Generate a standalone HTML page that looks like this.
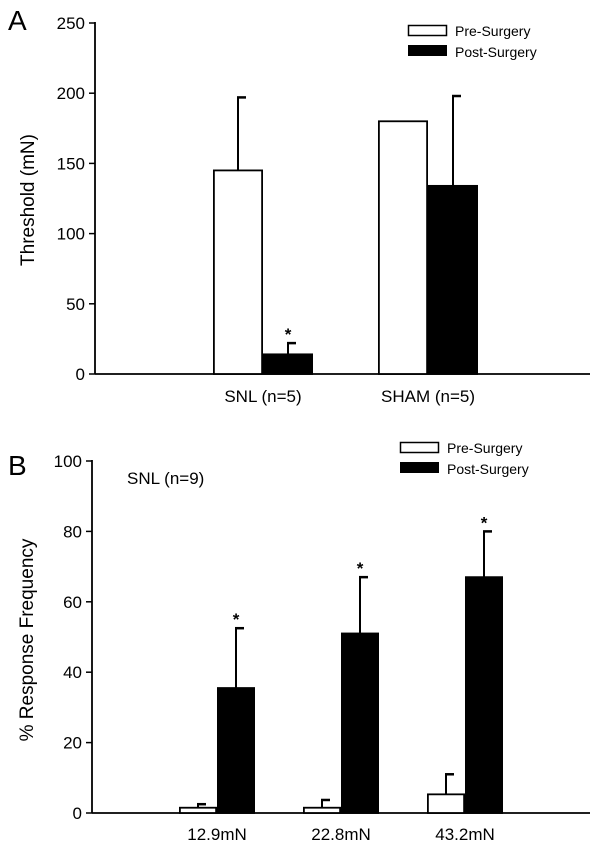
<!DOCTYPE html>
<html><head><meta charset="utf-8"><style>
html,body{margin:0;padding:0;background:#fff;}
svg{display:block;font-family:"Liberation Sans",Arial,sans-serif;}
</style></head><body>
<svg id="fig" width="600" height="851" viewBox="0 0 600 851">
<text x="8" y="30" font-size="28">A</text>
<text x="8" y="475" font-size="28">B</text>
<text transform="translate(34,200) rotate(-90)" text-anchor="middle" font-size="19">Threshold (mN)</text>
<text transform="translate(33,640) rotate(-90)" text-anchor="middle" font-size="19">% Response Frequency</text>
<text x="127" y="484" font-size="17">SNL (n=9)</text>
<g>
<rect x="408.5" y="25.5" width="38" height="10" fill="#fff" stroke="#000" stroke-width="1.5"/>
<text x="455" y="36" font-size="14">Pre-Surgery</text>
<rect x="408" y="45" width="39" height="11" fill="#000"/>
<text x="455" y="57" font-size="14">Post-Surgery</text>
</g>
<g>
<rect x="400.5" y="442.5" width="38" height="10" fill="#fff" stroke="#000" stroke-width="1.5"/>
<text x="447" y="453" font-size="14">Pre-Surgery</text>
<rect x="400" y="462" width="39" height="11" fill="#000"/>
<text x="447" y="474" font-size="14">Post-Surgery</text>
</g>
</svg>
<script>
const catsA = ["SNL (n=5)", "SHAM (n=5)"];
const preA = [145, 180];
const preErrA = [197, 180];
const postA = [14, 134];
const postErrA = [22, 198];
const ticksA = [0, 50, 100, 150, 200, 250];

const catsB = ["12.9mN", "22.8mN", "43.2mN"];
const preB = [1.5, 1.5, 5.3];
const preErrB = [2.5, 3.7, 11];
const postB = [35.5, 51, 67];
const postErrB = [52.5, 67, 80];
const ticksB = [0, 20, 40, 60, 80, 100];

const NS = "http://www.w3.org/2000/svg";
const svg = document.getElementById("fig");
function mk(tag, attrs, parent) {
  const e = document.createElementNS(NS, tag);
  for (const k in attrs) e.setAttribute(k, attrs[k]);
  (parent || svg).appendChild(e);
  return e;
}

function panel(cfg) {
  const g = mk("g", {});
  
  
  const y = v => cfg.y0 - (v / cfg.ymax) * (cfg.y0 - cfg.ytop);
  const ax = mk("line", {x1: cfg.ax, y1: cfg.ytop - 1, x2: cfg.ax, y2: cfg.y0, stroke: "#000", "stroke-width": 1.8}, g);
  
  
  const xl = mk("line", {x1: cfg.ax, y1: cfg.y0, x2: 590, y2: cfg.y0, stroke: "#000", "stroke-width": 1.8}, g);
  
  
  cfg.ticks.forEach(t => {
    const tl = mk("line", {x1: cfg.ax - 6, y1: y(t), x2: cfg.ax, y2: y(t), stroke: "#000", "stroke-width": 1.5}, g);
    
    
    const tx = mk("text", {x: cfg.ax - 10, y: y(t) + 6, "text-anchor": "end", "font-size": 17}, g);
    tx.textContent = t;
    
    
  });
  cfg.cats.forEach((c, i) => {
    const cx = cfg.centers[i];
    const w = cfg.bw;
    const series = [
      {v: cfg.pre[i], e: cfg.preErr[i], x: cx - w, fill: "#fff", n: "pre"},
      {v: cfg.post[i], e: cfg.postErr[i], x: cx, fill: "#000", n: "post"}
    ];
    series.forEach((s, j) => {
      const mid = s.x + w / 2;
      if (s.e > s.v) {
        const el = mk("line", {x1: mid, y1: y(s.e), x2: mid, y2: y(s.v), stroke: "#000", "stroke-width": 2}, g);
        
        
        const cap = mk("line", {x1: mid - 1, y1: y(s.e), x2: mid + 8, y2: y(s.e), stroke: "#000", "stroke-width": 2.5}, g);
        
        
      }
      const r = mk("rect", {x: s.x + 0.9, y: y(s.v), width: w - 1.8, height: cfg.y0 - y(s.v), fill: s.fill, stroke: "#000", "stroke-width": 1.8}, g);
      
      
      if (cfg.star(i, j)) {
        const st = mk("text", {x: mid, y: y(s.e) - 3, "text-anchor": "middle", "font-size": 17, "font-weight": "bold"}, g);
        st.textContent = "*";
        
        
      }
    });
    const lb = mk("text", {x: cx, y: cfg.labelY, "text-anchor": "middle", "font-size": 17}, g);
    lb.textContent = c;
    
    
  });
}

panel({name: "panel-a-chart", ax: 95, ytop: 23, y0: 374, ymax: 250, ticks: ticksA,
  cats: catsA, pre: preA, preErr: preErrA, post: postA, postErr: postErrA,
  centers: [263, 428], bw: 50, labelY: 402,
  star: (i, j) => i === 0 && j === 1});
panel({name: "panel-b-chart", ax: 92, ytop: 461, y0: 813, ymax: 100, ticks: ticksB,
  cats: catsB, pre: preB, preErr: preErrB, post: postB, postErr: postErrB,
  centers: [217, 341, 465], bw: 38, labelY: 840,
  star: (i, j) => j === 1});
</script>
</body></html>
